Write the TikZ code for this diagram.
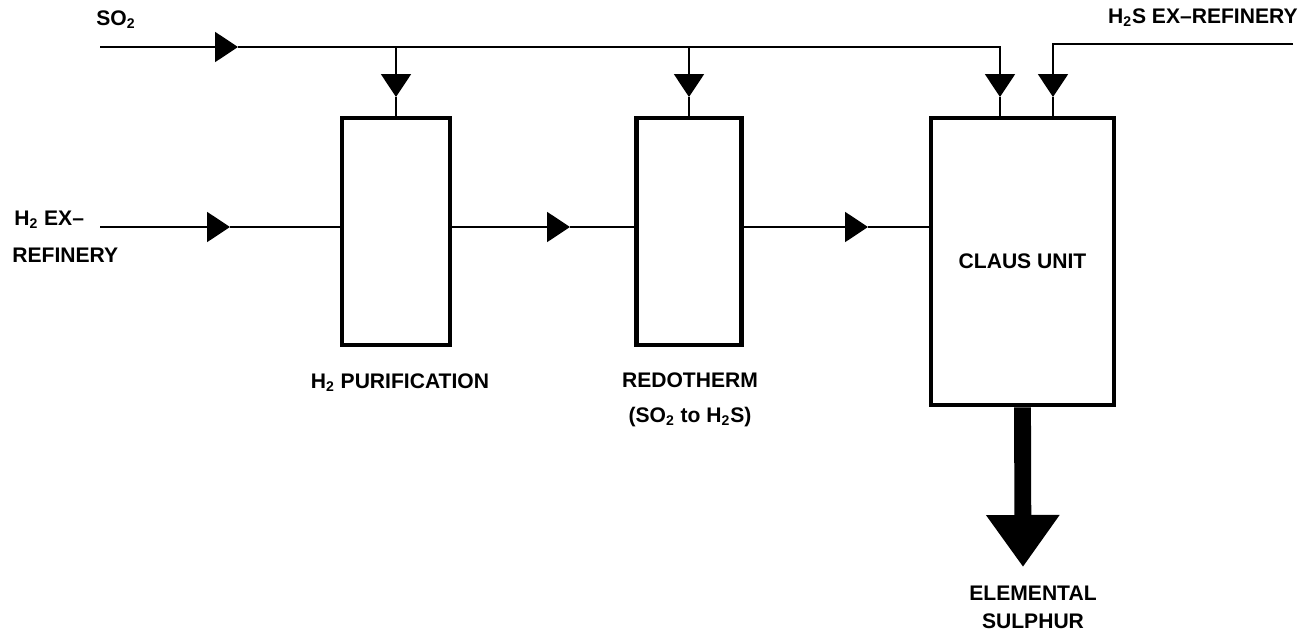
\documentclass[tikz,border=0pt]{standalone}
\usepackage{fontspec}
\setmainfont{Liberation Sans}
\usetikzlibrary{arrows.meta,positioning}

\tikzset{
  unit/.style={draw, line width=2.8pt, inner sep=0pt},
  flow/.style={line width=1.1pt},
  tip/.style={-{Triangle[length=0.46cm,width=0.6cm]}},
  lbl/.style={inner sep=0pt}
}

\begin{document}
\begin{tikzpicture}[x=0.02cm, y=-0.02cm, font=\bfseries\fontsize{12}{14}\selectfont]
    \useasboundingbox (0,0) rectangle (1309,636);

    % 设备
    \node[unit, minimum width=2.16cm, minimum height=4.54cm] (h2pur) at (396,231.5) {};
    \node[unit, minimum width=2.1cm, minimum height=4.54cm] (redo) at (689,231.5) {};
    \node[unit, minimum width=3.66cm, minimum height=5.74cm] (claus) at (1022.5,261.5) {CLAUS UNIT};

    % 进料点
    \coordinate (so2in) at (100,47);
    \coordinate (so2a) at (238,47);
    \coordinate (so2end) at (1000,47);
    \coordinate (h2sin) at (1293,44);
    \coordinate (h2send) at (1053,44);
    \coordinate (h2in) at (100,227);
    \coordinate (h2a) at (230,227);
    \coordinate (pa) at (570,227);
    \coordinate (pb) at (868,227);
    \coordinate (clausA) at (1000,116);
    \coordinate (clausB) at (1053,116);
    \coordinate (downtip) at (0,97);
    \coordinate (sulphur) at (1023,567);

    % SO2 总管
    \draw[flow, tip] (so2in) -- (so2a);
    \draw[flow, tip] (so2a) -- (so2end) -- (clausA |- downtip);
    \draw[flow] (clausA |- downtip) -- (clausA);
    \draw[flow, tip] (h2pur.north |- so2in) -- (h2pur.north |- downtip);
    \draw[flow] (h2pur.north |- downtip) -- (h2pur.north);
    \draw[flow, tip] (redo.north |- so2in) -- (redo.north |- downtip);
    \draw[flow] (redo.north |- downtip) -- (redo.north);

    % H2S
    \draw[flow, tip] (h2sin) -- (h2send) -- (clausB |- downtip);
    \draw[flow] (clausB |- downtip) -- (clausB);

    % H2 流程
    \draw[flow, tip] (h2in) -- (h2a);
    \draw[flow] (h2a) -- (h2pur.west |- h2a);
    \draw[flow, tip] (h2pur.east |- pa) -- (pa);
    \draw[flow] (pa) -- (redo.west |- pa);
    \draw[flow, tip] (redo.east |- pb) -- (pb);
    \draw[flow] (pb) -- (claus.west |- pb);

    % 硫磺
    \draw[line width=9.6pt, -{Triangle[length=1.04cm,width=1.4cm]}] (claus.south) -- (sulphur);

    % 标注
    \node[lbl, anchor=west] (so2lbl) at (96,20) {SO\textsubscript{2}};
    \node[lbl, anchor=east] (h2slbl) at (1298,18) {H\textsubscript{2}S EX–REFINERY};
    \node[lbl, anchor=west] (h2lbl) at (14,220) {H\textsubscript{2} EX–};
    \node[lbl, anchor=west] (reflbl) at (12,255) {REFINERY};
    \node[lbl] (h2purlbl) at (400,383) {H\textsubscript{2} PURIFICATION};
    \node[lbl, align=center] (redolbl) at (690,400) {REDOTHERM\\[6pt](SO\textsubscript{2} to H\textsubscript{2}S)};
    \node[lbl, align=center] (sulphurlbl) at (1033,607) {ELEMENTAL\\[2pt]SULPHUR};
\end{tikzpicture}
\end{document}
